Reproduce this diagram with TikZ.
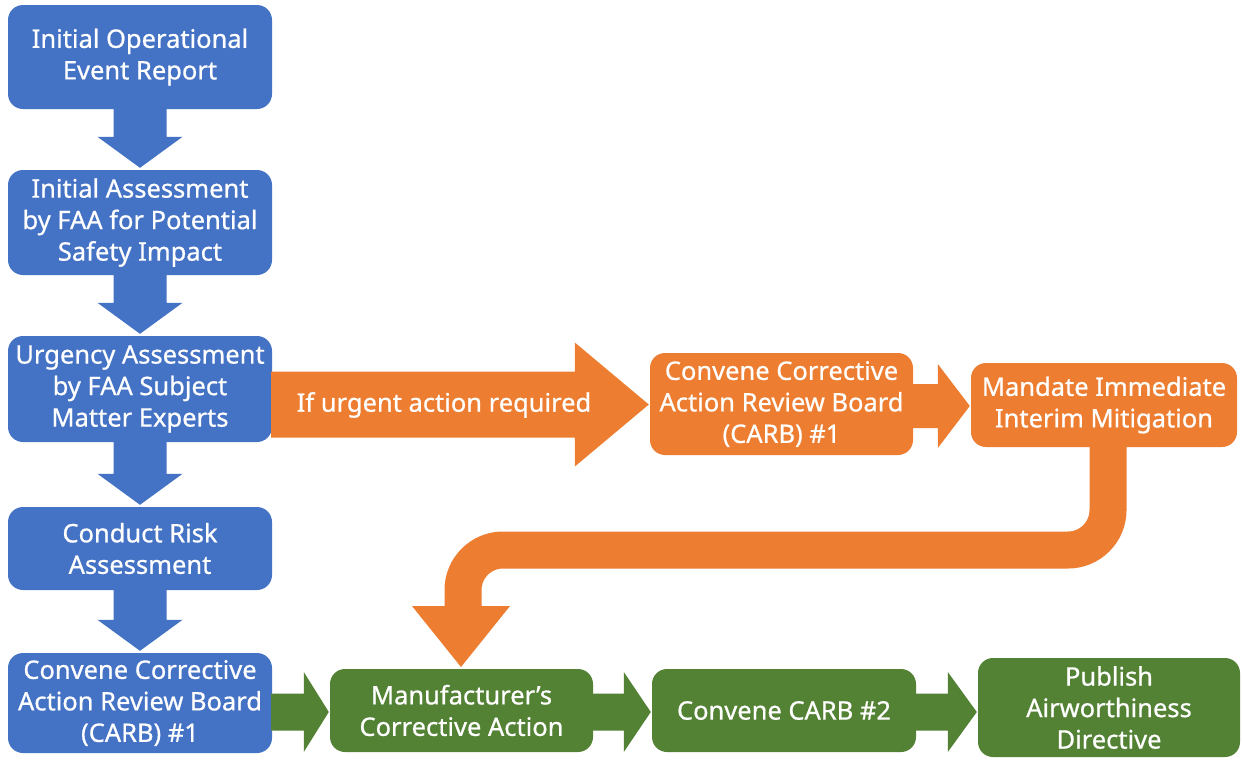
\documentclass[tikz,border=0pt]{standalone}
\usepackage{fontspec}
\setmainfont{Noto Sans}
\newfontfamily\boxfont{Noto Sans}[FakeBold=0.7]
\usetikzlibrary{calc}
\definecolor{fblue}{HTML}{4472C4}
\definecolor{forange}{HTML}{ED7D31}
\definecolor{fgreen}{HTML}{548235}
\newcommand{\varrowblk}[3]{%
  \fill[#1] let \p1=(#2.south), \p2=(#3.north) in
  (\x1-26.5pt,\y1+1pt) -- (\x1-26.5pt,\y2+33pt) -- (\x1-42.5pt,\y2+33pt) -- (\x1,\y2+2pt)
  -- (\x1+42.5pt,\y2+33pt) -- (\x1+26.5pt,\y2+33pt) -- (\x1+26.5pt,\y1+1pt) -- cycle;}
\newcommand{\harrowblk}[7]{%
  \fill[#1] let \p1=(#2.east), \p2=(#3.west), \p3=(0,#4) in
  (\x1-1pt,\y3+#5pt) -- (\x2-#7pt,\y3+#5pt) -- (\x2-#7pt,\y3+#6pt) -- (\x2-1pt,\y3)
  -- (\x2-#7pt,\y3-#6pt) -- (\x2-#7pt,\y3-#5pt) -- (\x1-1pt,\y3-#5pt) -- cycle;}
\begin{document}
\begin{tikzpicture}[x=1pt,y=-1pt,
  box/.style={rounded corners=15pt, inner sep=0pt, text=white, align=center,
    font=\boxfont\fontsize{25.5}{31.5}\selectfont},
  bluebox/.style={box, fill=fblue},
  orangebox/.style={box, fill=forange},
  greenbox/.style={box, fill=fgreen},
  lbl/.style={text=white, inner sep=0pt, font=\boxfont\fontsize{25.5}{31.5}\selectfont}]
\useasboundingbox (0,0) rectangle (1242,761);
\fill[white] (0,0) rectangle (1242,761);

\node[bluebox, minimum width=264pt, minimum height=104pt] (b1) at (140,57) {Initial Operational\\Event Report};
\node[bluebox, minimum width=264pt, minimum height=105pt] (b2) at (140,222.5) {Initial Assessment\\by FAA for Potential\\Safety Impact};
\node[bluebox, minimum width=264pt, minimum height=106pt] (b3) at (140,389) {Urgency Assessment\\by FAA Subject\\Matter Experts};
\node[bluebox, minimum width=264pt, minimum height=83pt] (b4) at (140,548.5) {Conduct Risk\\Assessment};
\node[bluebox, minimum width=264pt, minimum height=100pt] (b5) at (140,703) {Convene Corrective\\Action Review Board\\(CARB) \#1};

\node[orangebox, minimum width=263pt, minimum height=102pt] (o1) at (781.5,404) {Convene Corrective\\Action Review Board\\(CARB) \#1};
\node[orangebox, minimum width=266pt, minimum height=84pt] (o2) at (1104,405) {Mandate Immediate\\Interim Mitigation};

\node[greenbox, minimum width=263pt, minimum height=83pt] (g1) at (461.5,710.5) {Manufacturer’s\\Corrective Action};
\node[greenbox, minimum width=264pt, minimum height=83pt] (g2) at (784,710.5) {Convene CARB \#2};
\node[greenbox, minimum width=262pt, minimum height=99pt] (g3) at (1109,707.5) {Publish\\Airworthiness\\Directive};

\varrowblk{fblue}{b1}{b2}
\varrowblk{fblue}{b2}{b3}
\varrowblk{fblue}{b3}{b4}
\varrowblk{fblue}{b4}{b5}

\harrowblk{forange}{b3}{o1}{404.5}{33}{62}{75}
\node[lbl] (urg) at (444,405) {If urgent action required};
\harrowblk{forange}{o1}{o2}{406}{22}{42}{33}

\harrowblk{fgreen}{b5}{g1}{712}{18.5}{40}{26}
\harrowblk{fgreen}{g1}{g2}{712}{18.5}{40}{28}
\harrowblk{fgreen}{g2}{g3}{712}{18.5}{40}{30}

\coordinate (c1) at (1108,550);
\coordinate (c2) at (463,550);
\coordinate (hb) at (463,606);
\coordinate (tip) at (461,667);
\draw[forange, line width=37pt, rounded corners=40pt]
  ($(o2.south -| c1)+(0,-2)$) -- (c1) -- (c2) -- (hb);
\fill[forange] ($(hb)+(-51,0)$) -- ($(hb)+(47,0)$) -- (tip) -- cycle;
\end{tikzpicture}
\end{document}
